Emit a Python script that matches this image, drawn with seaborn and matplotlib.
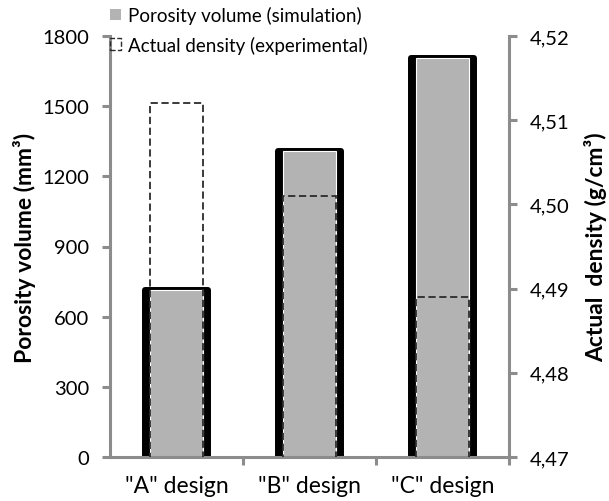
import numpy as np
import pandas as pd
import matplotlib
matplotlib.use("Agg")
import matplotlib.pyplot as plt
import seaborn as sns
from matplotlib.patches import Patch

# ---------------------------------------------------------------------
# data
# ---------------------------------------------------------------------
designs = ['"A" design', '"B" design', '"C" design']
porosity_mm3 = [715, 1310, 1705]          # left axis, simulation
density_gcm3 = [4.512, 4.501, 4.489]      # right axis, experimental

left_ticks = [0, 300, 600, 900, 1200, 1500, 1800]
right_ticks = [4.47, 4.48, 4.49, 4.50, 4.51, 4.52]

legend_labels = ["Porosity volume (simulation)", "Actual density (experimental)"]

df = pd.DataFrame({"design": designs, "porosity": porosity_mm3, "density": density_gcm3})

# ---------------------------------------------------------------------
# theme
# ---------------------------------------------------------------------
sns.set_theme(style="white")
plt.rcParams['font.family'] = ['Lato', 'DejaVu Sans']
plt.rcParams['text.color'] = 'black'
plt.rcParams['axes.labelcolor'] = 'black'

AXIS_GREY = '#8c8c8c'
BAR_GREY = '#b3b3b3'
FS_LEG = 13.5
FS_TICK = 14.5
FS_CAT = 16.5
FS_TITLE = 16.5

fig = plt.figure(figsize=(6.09, 5.02), dpi=100)
ax = fig.add_axes([110 / 609, 1 - 458 / 502, 399 / 609, 421 / 502])

# thick black backing that gives the bars their dark rim
sns.barplot(data=df, x="design", y="porosity", color="black", saturation=1,
            width=0.481, edgecolor="black", linewidth=4.3, errorbar=None, ax=ax)
for p in ax.patches:
    p.set_joinstyle('round')

# grey porosity bars
sns.barplot(data=df, x="design", y="porosity", color=BAR_GREY, saturation=1,
            width=0.4, edgecolor="white", linewidth=0.8, errorbar=None, ax=ax)

ax.set_xlim(-0.5, 2.5)
ax.set_ylim(left_ticks[0], left_ticks[-1])
ax.set_yticks(left_ticks)
ax.set_xlabel("")
ax.set_ylabel("Porosity volume (mm³)", fontsize=FS_TITLE, fontweight='bold')
ax.yaxis.set_label_coords(-0.185, 0.5)

# secondary axis: dashed outline bars for density
ax2 = ax.twinx()
sns.barplot(data=df, x="design", y="density", color="white", saturation=1,
            width=0.4, errorbar=None, ax=ax2)
for p in ax2.patches:
    p.set_facecolor('none')
    p.set_edgecolor('#2b2b2b')
    p.set_linewidth(1.3)
    p.set_linestyle((0, (4, 2)))
ax2.set_xlim(-0.5, 2.5)
ax2.set_ylim(right_ticks[0], right_ticks[-1])
ax2.set_yticks(right_ticks)
ax2.set_yticklabels([f"{v:.2f}".replace('.', ',') for v in right_ticks])
ax2.set_ylabel("Actual  density (g/cm³)", fontsize=FS_TITLE, fontweight='bold',
               rotation=90)
ax2.yaxis.set_label_coords(1.188, 0.5)

# spines and ticks
for a in (ax, ax2):
    for s in a.spines.values():
        s.set_visible(False)
ax.spines['left'].set_visible(True)
ax.spines['bottom'].set_visible(True)
ax2.spines['right'].set_visible(True)
for s in (ax.spines['left'], ax.spines['bottom'], ax2.spines['right']):
    s.set_color(AXIS_GREY)
    s.set_linewidth(2.2)

ax.tick_params(axis='y', left=True, length=6, width=2.2, color=AXIS_GREY,
               labelsize=FS_TICK, labelcolor='black', pad=9)
ax2.tick_params(axis='y', right=True, length=6, width=2.2, color=AXIS_GREY,
                labelsize=FS_TICK, labelcolor='black', pad=9)
ax.tick_params(axis='x', which='major', length=0, labelsize=FS_CAT,
               labelcolor='black', pad=13)
ax.set_xticks([0.5, 1.5, 2.5], minor=True)
ax.tick_params(axis='x', which='minor', bottom=True, length=6, width=2.2,
               color=AXIS_GREY)

# legend
handles = [
    Patch(facecolor=BAR_GREY, edgecolor='none'),
    Patch(facecolor='none', edgecolor='#2b2b2b', linestyle='--', linewidth=1.0),
]
fig.legend(handles, legend_labels, loc='upper left',
           bbox_to_anchor=(110 / 609, 1 - 7 / 502), frameon=False,
           fontsize=FS_LEG, labelcolor='black', handlelength=0.6, handleheight=0.6,
           handletextpad=0.35, labelspacing=0.62, borderaxespad=0, borderpad=0)

fig.savefig("out.png", dpi=100)
